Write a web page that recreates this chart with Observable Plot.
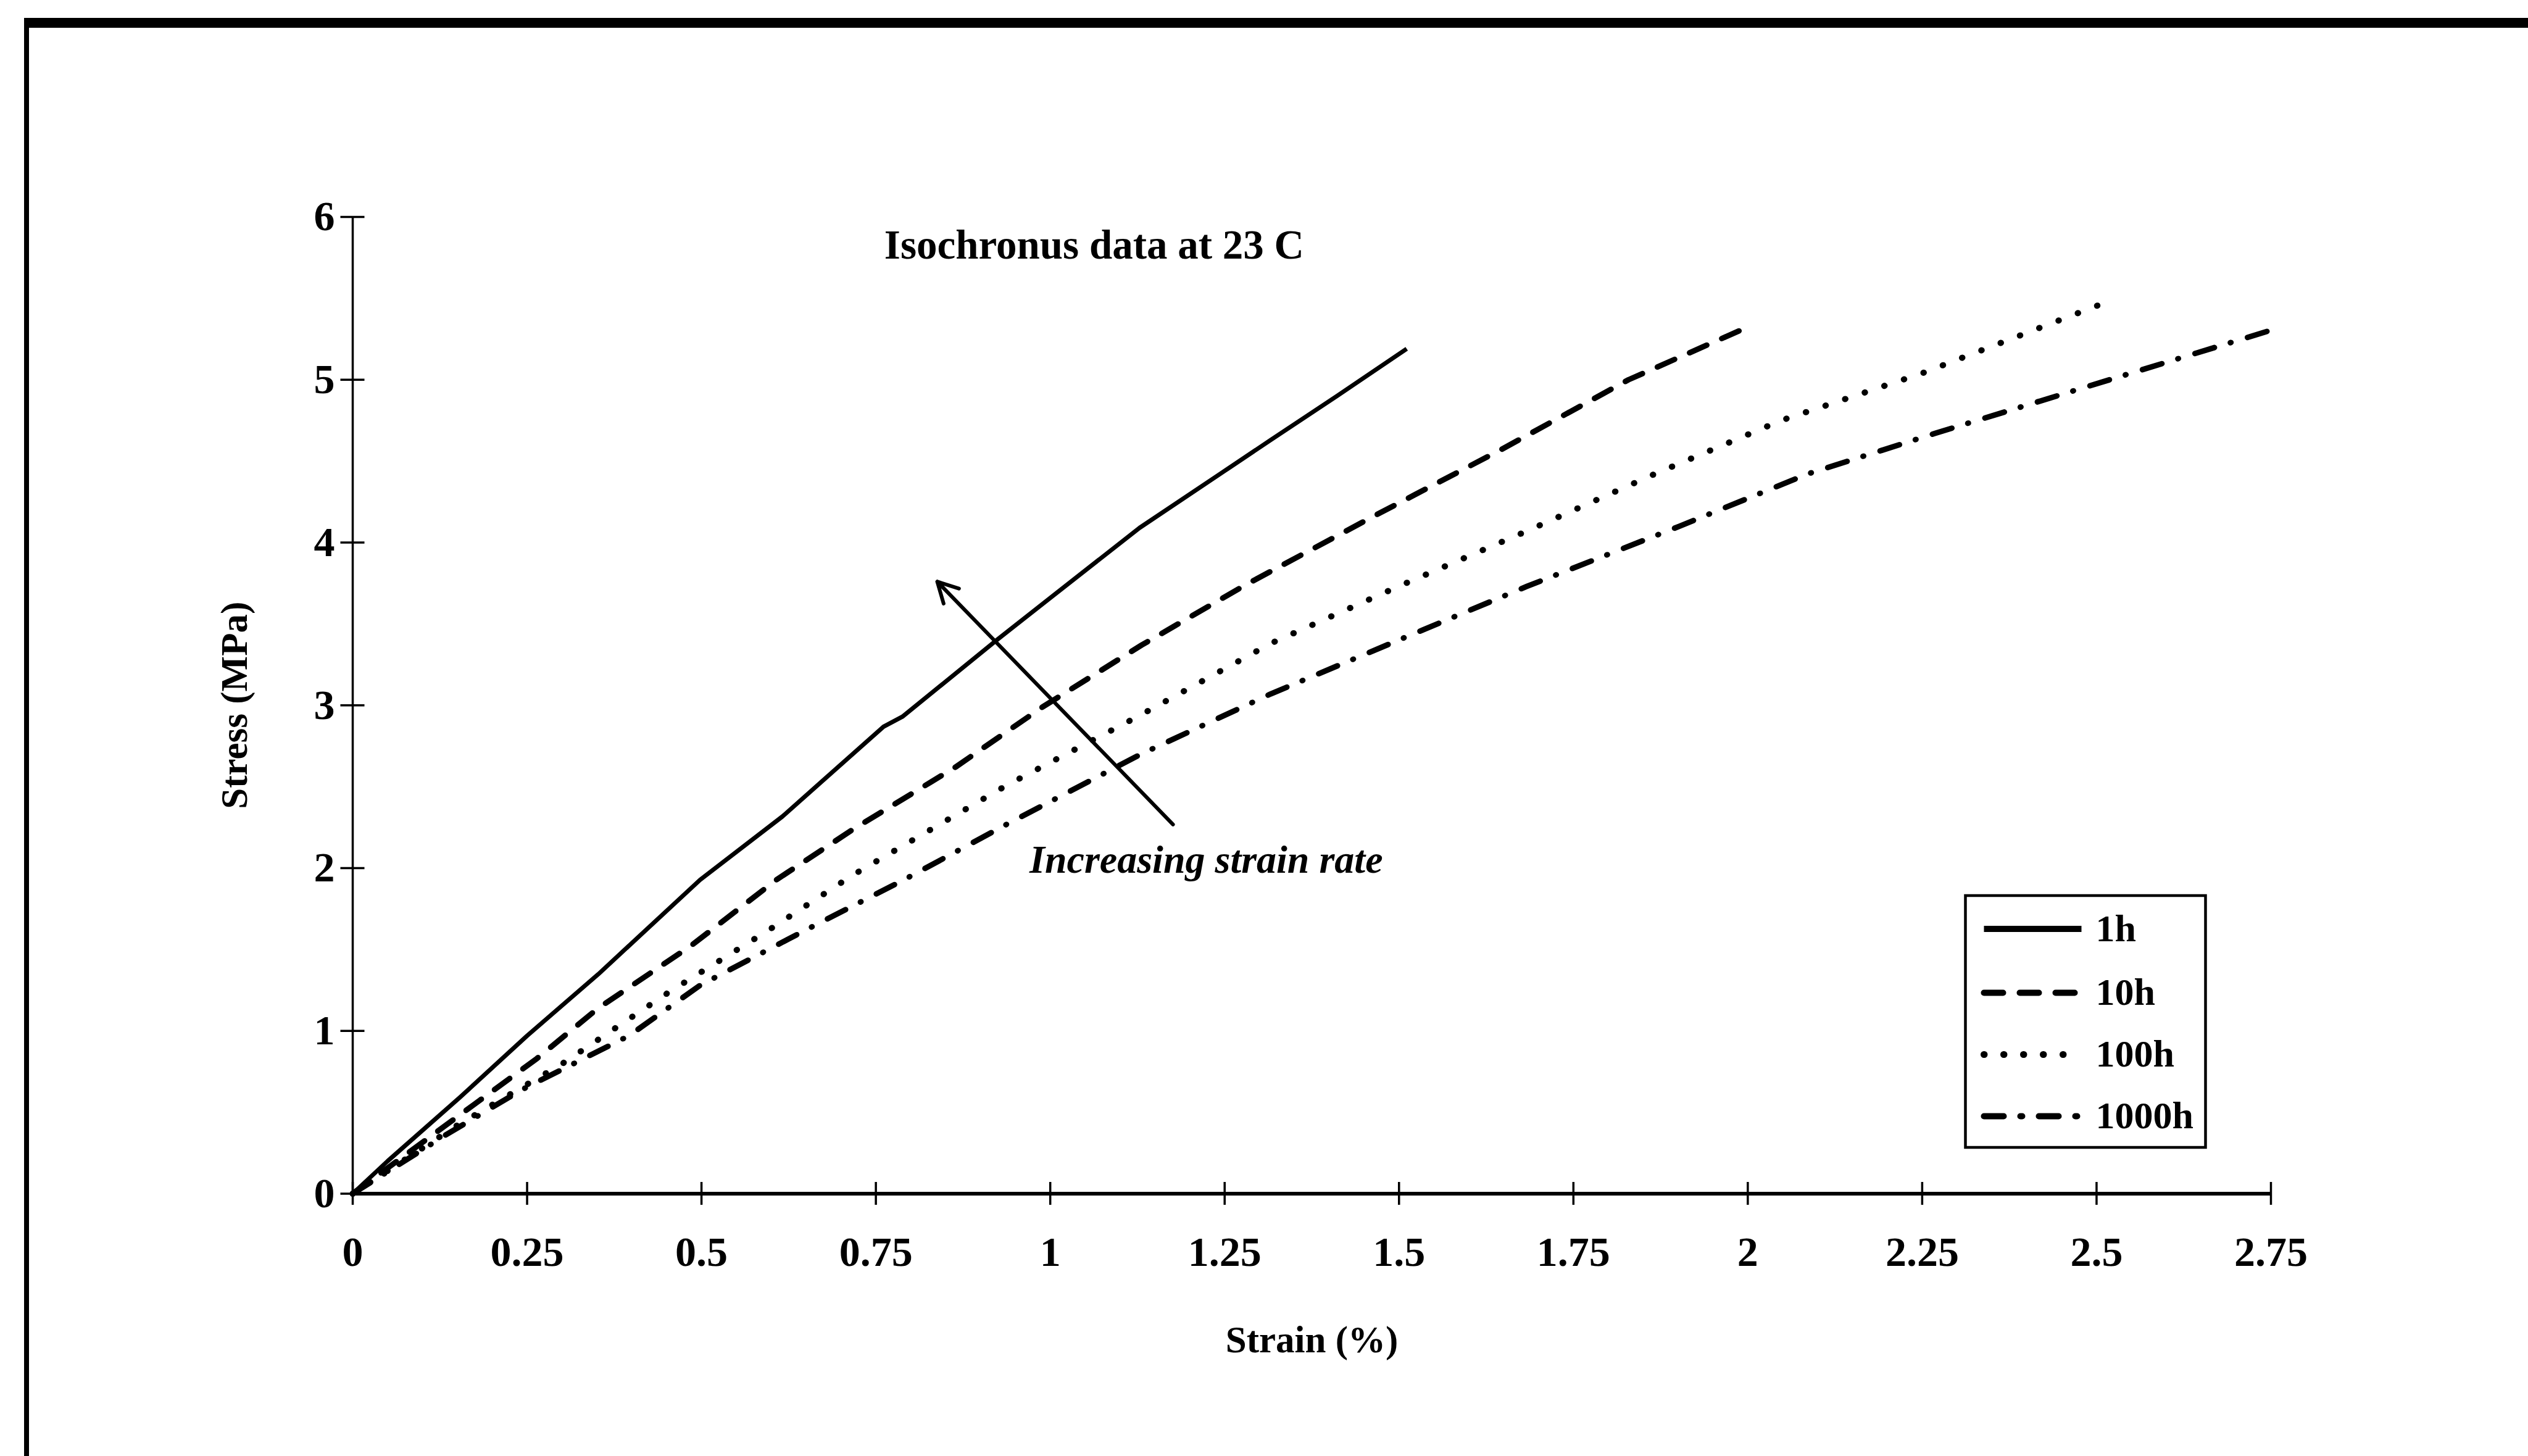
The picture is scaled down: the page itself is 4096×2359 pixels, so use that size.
<!DOCTYPE html>
<html>
<head>
<meta charset="utf-8">
<script src="https://cdn.jsdelivr.net/npm/d3@7"></script>
<script src="https://cdn.jsdelivr.net/npm/@observablehq/plot@0.6"></script>
<style>
  html, body { margin: 0; padding: 0; background: #ffffff; }
  #chart { position: relative; width: 4096px; height: 2359px; overflow: hidden; background: #ffffff; }
</style>
</head>
<body>
<div id="chart"></div>
<script>
// ---------- data ----------
const seriesNames = ["1h", "10h", "100h", "1000h"];

const strain1h = [0, 0.05, 0.154, 0.25, 0.352, 0.498, 0.616, 0.761, 0.788, 0.923, 1.0, 1.128, 1.25, 1.316, 1.411, 1.511];
const stress1h = [0, 0.2, 0.593, 0.97, 1.348, 1.928, 2.317, 2.869, 2.93, 3.40, 3.66, 4.09, 4.44, 4.63, 4.90, 5.19];

const strain10h = [0, 0.154, 0.264, 0.352, 0.484, 0.608, 0.718, 0.864, 0.989, 1.131, 1.280, 1.463, 1.646, 1.829, 1.998];
const stress10h = [0, 0.485, 0.83, 1.14, 1.52, 1.93, 2.24, 2.62, 2.99, 3.37, 3.74, 4.16, 4.57, 5.00, 5.32];

const strain100h = [0, 0.15, 0.301, 0.454, 0.593, 0.718, 0.938, 1.125, 1.316, 1.499, 1.683, 1.866, 2.048, 2.25, 2.51];
const stress100h = [0, 0.42, 0.80, 1.24, 1.61, 1.96, 2.51, 2.93, 3.38, 3.73, 4.07, 4.42, 4.75, 5.04, 5.47];

const strain1000h = [0, 0.133, 0.243, 0.396, 0.498, 0.645, 0.791, 0.938, 1.13, 1.316, 1.499, 1.683, 1.902, 2.085, 2.268, 2.473, 2.762];
const stress1000h = [0, 0.36, 0.64, 0.97, 1.28, 1.61, 1.93, 2.27, 2.70, 3.07, 3.40, 3.73, 4.10, 4.42, 4.67, 4.94, 5.32];

const xTicks = [0, 0.25, 0.5, 0.75, 1, 1.25, 1.5, 1.75, 2, 2.25, 2.5, 2.75];
const yTicks = [0, 1, 2, 3, 4, 5, 6];

const xLabel = "Strain (%)";
const yLabel = "Stress (MPa)";
const titleText = ["Isochronus data at 23 C"];
const titleStrain = [1.063];
const titleStress = [5.826];
const noteText = ["Increasing strain rate"];
const noteStrain = [1.2235];
const noteStress = [2.051];
const arrowFromStrain = [1.176];
const arrowFromStress = [2.268];
const arrowToStrain = [0.838];
const arrowToStress = [3.760];

// ---------- build tables ----------
const toRows = (xs, ys) => xs.map((x, i) => ({strain: x, stress: ys[i]}));
const rows = {
  "1h": toRows(strain1h, stress1h),
  "10h": toRows(strain10h, stress10h),
  "100h": toRows(strain100h, stress100h),
  "1000h": toRows(strain1000h, stress1000h)
};

// line styles per series (stroke width, dash pattern)
const styles = {
  "1h":    {strokeWidth: 7,  strokeDasharray: null,            strokeLinecap: "butt"},
  "10h":   {strokeWidth: 9,  strokeDasharray: "30.5,26.5",     strokeLinecap: "round"},
  "100h":  {strokeWidth: 10, strokeDasharray: "0.5,33",        strokeLinecap: "round"},
  "1000h": {strokeWidth: 9,  strokeDasharray: "33,27,1,28",    strokeLinecap: "round"}
};

const FONT = "'Liberation Serif', 'Times New Roman', serif";
const fmt = d => String(d);

const lineMarks = seriesNames.map(name =>
  Plot.line(rows[name], {
    x: "strain", y: "stress", stroke: "black",
    strokeWidth: styles[name].strokeWidth,
    strokeDasharray: styles[name].strokeDasharray,
    strokeLinecap: styles[name].strokeLinecap,
    strokeLinejoin: "round"
  })
);

const titleRows = titleText.map((t, i) => ({t, x: titleStrain[i], y: titleStress[i]}));
const noteRows = noteText.map((t, i) => ({t, x: noteStrain[i], y: noteStress[i]}));
const arrowRows = arrowFromStrain.map((x, i) => ({x1: x, y1: arrowFromStress[i], x2: arrowToStrain[i], y2: arrowToStress[i]}));

const plot = Plot.plot({
  width: 4096,
  height: 2359,
  marginLeft: 571,
  marginRight: 417,
  marginTop: 351,
  marginBottom: 425.5,
  style: {fontFamily: FONT, background: "#ffffff", color: "black", overflow: "visible"},
  x: {type: "linear", domain: [0, 2.75]},
  y: {type: "linear", domain: [0, 6]},
  marks: [
    // axis lines
    Plot.ruleX([0], {stroke: "black", strokeWidth: 3.5}),
    Plot.ruleY([0], {stroke: "black", strokeWidth: 6}),
    // crossing tick marks
    Plot.axisX(xTicks, {anchor: "bottom", tickSize: 37, dy: -18.5, fill: "none", stroke: "black", strokeWidth: 3.5, label: null, tickFormat: fmt}),
    Plot.axisY(yTicks, {anchor: "left", tickSize: 39, dx: 19.5, fill: "none", stroke: "black", strokeWidth: 3.5, label: null, tickFormat: fmt}),
    // tick labels
    Plot.axisX(xTicks, {anchor: "bottom", tickSize: 0, tickPadding: 69, fontSize: 68, fontWeight: "bold", fill: "black", label: null, tickFormat: fmt}),
    Plot.axisY(yTicks, {anchor: "left", tickSize: 0, tickPadding: 29, fontSize: 68, fontWeight: "bold", fill: "black", label: null, tickFormat: fmt}),
    // axis titles
    Plot.text([xLabel], {frameAnchor: "bottom", dy: 237, lineAnchor: "middle", textAnchor: "middle", fontSize: 61, fontWeight: "bold", fill: "black"}),
    Plot.text([yLabel], {frameAnchor: "left", dx: -191, rotate: -90, lineAnchor: "middle", textAnchor: "middle", fontSize: 61, fontWeight: "bold", fill: "black"}),
    // data
    ...lineMarks,
    // annotations
    Plot.arrow(arrowRows, {x1: "x1", y1: "y1", x2: "x2", y2: "y2", stroke: "black", strokeWidth: 6, headLength: 9.25, headAngle: 56}),
    Plot.text(titleRows, {x: "x", y: "y", text: "t", fontSize: 67, fontWeight: "bold", fill: "black", lineAnchor: "middle", textAnchor: "middle"}),
    Plot.text(noteRows, {x: "x", y: "y", text: "t", fontSize: 64, fontWeight: "bold", fontStyle: "italic", fill: "black", lineAnchor: "middle", textAnchor: "middle"})
  ]
});

document.getElementById("chart").appendChild(plot);

// ---------- scanned page frame and legend (drawn on the same svg) ----------
const svg = d3.select(plot);

// frame: thick top edge and left edge
svg.append("rect").attr("x", 39).attr("y", 29).attr("width", 4096 - 39).attr("height", 16).attr("fill", "black");
svg.append("rect").attr("x", 39).attr("y", 29).attr("width", 8).attr("height", 2359 - 29).attr("fill", "black");

// legend
const lg = {x: 3184.5, y: 1451, w: 389, h: 408};
const legendRowY = [54, 157.5, 257.5, 357.5];
const legendDash = {
  "1h": null,
  "10h": "31,27",
  "100h": "0.5,31.5",
  "1000h": "32,27,3,27"
};
const legendWidth = {"1h": 10, "10h": 10, "100h": 11, "1000h": 10};
const g = svg.append("g").attr("transform", `translate(${lg.x},${lg.y})`);
g.append("rect").attr("x", 0).attr("y", 0).attr("width", lg.w).attr("height", lg.h)
  .attr("fill", "white").attr("stroke", "black").attr("stroke-width", 4.5);
seriesNames.forEach((name, i) => {
  const yy = legendRowY[i];
  const ln = g.append("line")
    .attr("x1", 30).attr("x2", 188).attr("y1", yy).attr("y2", yy)
    .attr("stroke", "black").attr("stroke-width", legendWidth[name])
    .attr("stroke-linecap", name === "1h" ? "butt" : "round");
  if (legendDash[name]) ln.attr("stroke-dasharray", legendDash[name]);
  g.append("text").attr("x", 211).attr("y", yy + 19.5)
    .attr("text-anchor", "start")
    .attr("font-family", FONT).attr("font-size", 62).attr("font-weight", "bold")
    .attr("fill", "black").text(name);
});
</script>
</body>
</html>
